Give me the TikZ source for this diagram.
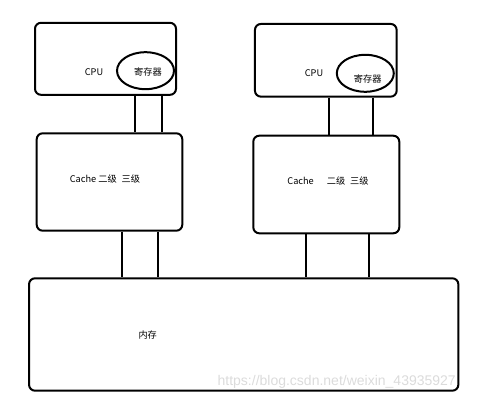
\documentclass[tikz,border=0pt]{standalone}
\usepackage{fontspec}
\setmainfont{Noto Sans CJK SC}
\newfontfamily\markfont{Liberation Sans}
\usetikzlibrary{shapes.geometric}
\tikzset{
box/.style={draw,line width=2pt,rounded corners=6pt,inner sep=0pt},
reg/.style={draw,ellipse,line width=2pt,inner sep=0pt},
wire/.style={line width=2pt},
lbl/.style={font=\fontsize{9.2}{11}\selectfont,inner sep=0pt}
}
\begin{document}
\begin{tikzpicture}[x=1pt,y=-1pt]
\useasboundingbox (0,0) rectangle (482,403);
\node[box,minimum width=141pt,minimum height=72pt] (cpuA) at (105.5,58.8) {};
\node[reg,minimum width=57pt,minimum height=37pt] (regA) at (145.5,70.7) {};
\node[lbl] (cpuAtxt) at (94,71.7) {CPU};
\node[lbl] (regAtxt) at (148,71.5) {寄存器};
\node[box,minimum width=141.7pt,minimum height=72.7pt] (cpuB) at (325.8,60.3) {};
\node[reg,minimum width=57pt,minimum height=37pt] (regB) at (365.3,73.3) {};
\node[lbl] (cpuBtxt) at (314,72.7) {CPU};
\node[lbl] (regBtxt) at (367.7,78.5) {寄存器};
\node[box,minimum width=145.6pt,minimum height=97.4pt] (cacheA) at (109.5,182) {};
\node[lbl] (cacheAtxt) at (105,179) {Cache 二级\hspace{5pt}三级};
\node[box,minimum width=146pt,minimum height=97.6pt] (cacheB) at (326.3,184.5) {};
\node[lbl] (cacheBtxt) at (328,181) {Cache\hspace{13pt}二级\hspace{5pt}三级};
\node[box,minimum width=429.3pt,minimum height=112.4pt] (mem) at (243.7,334.5) {};
\node[lbl] (memtxt) at (147.7,335) {内存};
\coordinate (wA1) at (135,0);
\coordinate (wA2) at (161.7,0);
\coordinate (wA3) at (121.7,0);
\coordinate (wA4) at (157.7,0);
\coordinate (wB1) at (329.3,0);
\coordinate (wB2) at (372.5,0);
\coordinate (wB3) at (306,0);
\coordinate (wB4) at (369,0);
\draw[wire] (wA1 |- cpuA.south) -- (wA1 |- cacheA.north);
\draw[wire] (wA2 |- cpuA.south) -- (wA2 |- cacheA.north);
\draw[wire] (wA3 |- cacheA.south) -- (wA3 |- mem.north);
\draw[wire] (wA4 |- cacheA.south) -- (wA4 |- mem.north);
\draw[wire] (wB1 |- cpuB.south) -- (wB1 |- cacheB.north);
\draw[wire] (wB2 |- cpuB.south) -- (wB2 |- cacheB.north);
\draw[wire] (wB3 |- cacheB.south) -- (wB3 |- mem.north);
\draw[wire] (wB4 |- cacheB.south) -- (wB4 |- mem.north);
\node[inner sep=0pt,text=black!14,font=\markfont\fontsize{14}{16}\selectfont] (mark) at (336.7,382) {https://blog.csdn.net/weixin\_43935927};
\end{tikzpicture}
\end{document}
